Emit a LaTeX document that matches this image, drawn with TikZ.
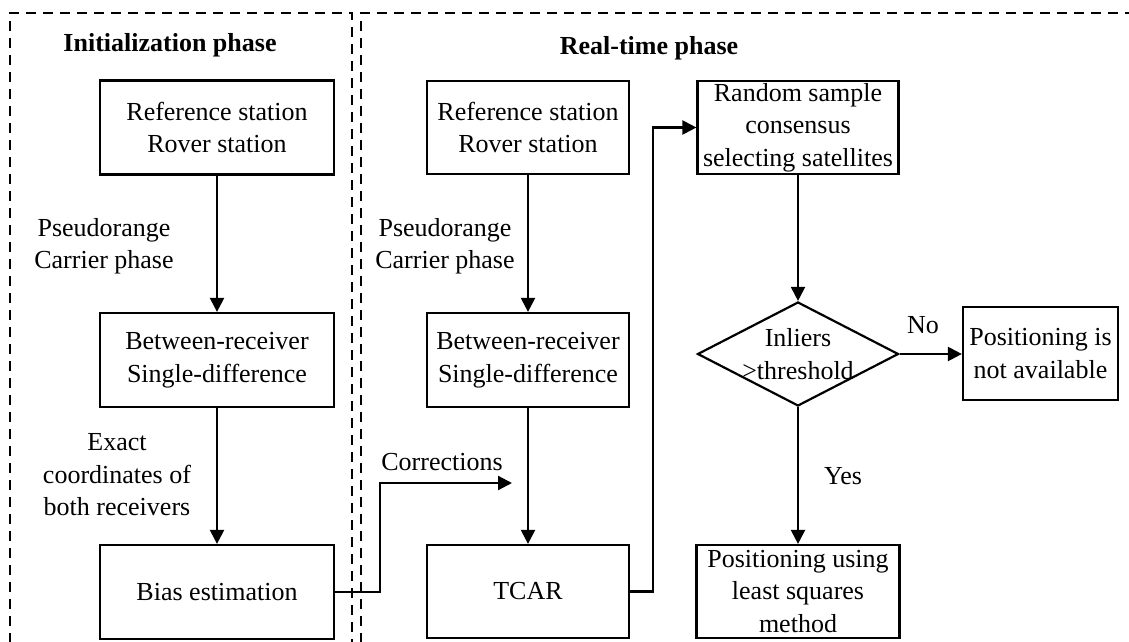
\documentclass[tikz,border=0pt]{standalone}
\usepackage{fontspec}
\setmainfont{Liberation Serif}
\usetikzlibrary{arrows.meta,shapes.geometric}
\begin{document}
\begin{tikzpicture}[x=1pt,y=-1pt,
 box/.style={draw,line width=2.2pt,inner sep=0pt,align=center,font=\fontsize{26}{32.5}\selectfont},
 lbl/.style={align=center,inner sep=0pt,font=\fontsize{26}{32.5}\selectfont},
 ttl/.style={inner sep=0pt,font=\fontsize{26}{32.5}\selectfont\bfseries},
 arr/.style={line width=2.2pt,-{Triangle[length=14pt,width=14pt]}},
 panel/.style={line width=2pt,dash pattern=on 10pt off 7pt}]
\useasboundingbox (0,0) rectangle (1129,642);
\fill[white] (0,0) rectangle (1129,642);
% panels
\begin{scope}
\clip (0,0) rectangle (1129,642);
\draw[panel] (10,660) -- (10,13) -- (352,13) -- (352,660);
\draw[panel] (361,660) -- (361,13) -- (1140,13);
\end{scope}
% titles
\node[ttl] (t1) at (170,45) {Initialization phase};
\node[ttl] (t2) at (649,48) {Real-time phase};
% left column
\node[box,minimum width=234pt,minimum height=94pt] (L1) at (217,127.5) {Reference station\\Rover station};
\node[box,minimum width=234pt,minimum height=94pt] (L2) at (217,360) {Between-receiver\\Single-difference};
\node[box,minimum width=234pt,minimum height=94pt] (L3) at (217,592) {Bias estimation};
\node[lbl] (pl) at (104,246) {Pseudorange\\Carrier phase};
\node[lbl] (ex) at (117,475) {Exact\\coordinates of\\both receivers};
% middle column
\node[box,minimum width=202pt,minimum height=93pt] (R1) at (528,127.5) {Reference station\\Rover station};
\node[box,minimum width=202pt,minimum height=94pt] (R2) at (528,360) {Between-receiver\\Single-difference};
\node[box,minimum width=202pt,minimum height=93pt] (R3) at (528,591.5) {TCAR};
\node[lbl] (pr) at (445,246) {Pseudorange\\Carrier phase};
\node[lbl] (co) at (442,462) {Corrections};
% right column
\node[box,minimum width=201pt,minimum height=93pt] (RS) at (798,127.5) {Random sample\\consensus\\selecting satellites};
\node[draw,diamond,line width=2.2pt,minimum width=201pt,minimum height=104pt,inner sep=0pt] (D) at (798,354) {};
\node[lbl] (Dt) at (798,354) {Inliers\\>threshold};
\node[box,minimum width=155pt,minimum height=93pt] (NA) at (1040.5,353.5) {Positioning is\\not available};
\node[box,minimum width=203pt,minimum height=93pt] (LS) at (798,591.5) {Positioning using\\least squares\\method};
\node[lbl] (no) at (923,325) {No};
\node[lbl] (yes) at (843,476) {Yes};
% connectors
\draw[arr] (L1.south) -- (L2.north);
\draw[arr] (L2.south) -- (L3.north);
\draw[arr] (R1.south) -- (R2.north);
\draw[arr] (R2.south) -- (R3.north);
\coordinate (c1) at (380,483);
\coordinate (cend) at (512,483);
\draw[arr] (L3.east) -| (c1) -- (cend);
\draw[arr] (R3.east) -- ++(23,0) |- (RS.west);
\draw[arr] (RS.south) -- (D.north);
\draw[arr] (D.east) -- (D.east -| NA.west);
\draw[arr] (D.south) -- (LS.north);
\end{tikzpicture}
\end{document}
